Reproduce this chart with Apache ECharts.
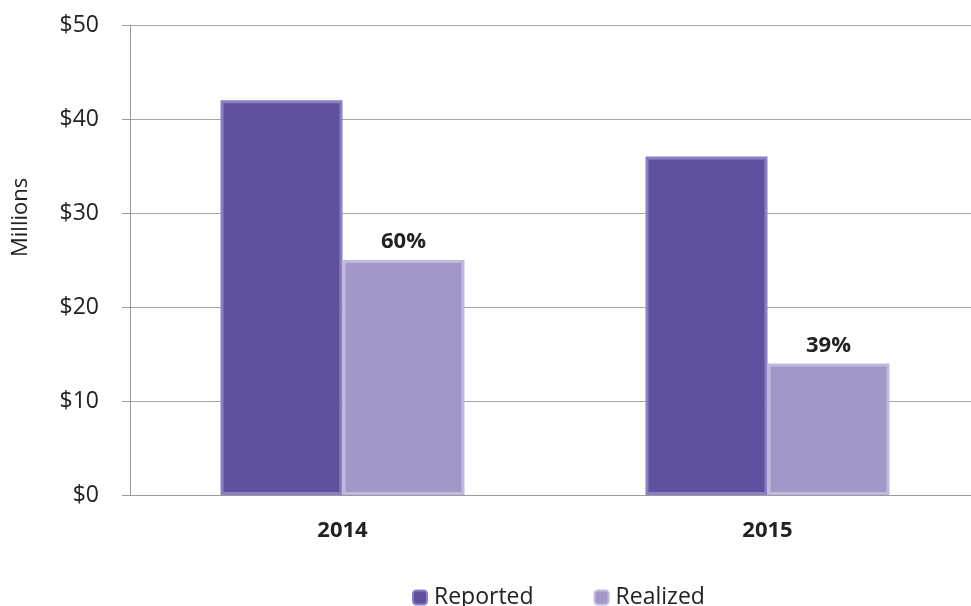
<!DOCTYPE html>
<html>
<head>
  <meta charset="UTF-8">
  <title>Reported vs Realized</title>
  <script src="https://cdn.jsdelivr.net/npm/echarts@6/dist/echarts.min.js"></script>
  <style>
    html, body { margin: 0; padding: 0; background: #fff; }
    #main { width: 971px; height: 606px; }
  </style>
</head>
<body>
<div id="main"></div>
<script>
  var years = ['2014', '2015'];
  var reported = [42, 36];
  var realized = [25, 14];
  var realizedPct = ['60%', '39%'];

  var font = '"Open Sans", "DejaVu Sans", sans-serif';

  var chart = echarts.init(document.getElementById('main'));
  chart.setOption({
    animation: false,
    textStyle: { fontFamily: font },
    grid: { left: 130, top: 25, width: 850, height: 470, containLabel: false, outerBoundsMode: 'none' },
    legend: {
      top: 581,
      left: 407,
      itemWidth: 14,
      itemHeight: 14,
      itemGap: 60,
      textStyle: { fontSize: 23, color: '#222', fontFamily: font, padding: [0, 0, 0, 2] },
      data: ['Reported', 'Realized']
    },
    graphic: [{
      type: 'text',
      x: 10,
      y: 257,
      rotation: Math.PI / 2,
      style: { text: 'Millions', fontSize: 22, fill: '#222', fontFamily: font }
    }],
    xAxis: {
      type: 'category',
      data: years,
      axisLine: { lineStyle: { color: '#9a9a9a' } },
      axisTick: { length: 8, lineStyle: { color: '#9a9a9a' } },
      axisLabel: { fontSize: 22, fontWeight: 'bold', color: '#222', margin: 25 }
    },
    yAxis: {
      type: 'value',
      min: 0,
      max: 50,
      interval: 10,
      axisLine: { show: true, lineStyle: { color: '#9a9a9a' } },
      axisTick: { show: true, length: 8, lineStyle: { color: '#9a9a9a' } },
      splitLine: { lineStyle: { color: '#a6a6a6' } },
      axisLabel: { fontSize: 23, color: '#222', margin: 31, formatter: '${value}' }
    },
    series: [{
      name: 'Reported',
      type: 'bar',
      data: reported,
      barWidth: 122,
      barGap: '0%',
      itemStyle: { color: '#6150a0', borderColor: '#8b7ec2', borderWidth: 3 }
    }, {
      name: 'Realized',
      type: 'bar',
      data: realized,
      barWidth: 122,
      barGap: '0%',
      itemStyle: { color: '#a397c9', borderColor: '#c2b9e0', borderWidth: 3 },
      label: {
        show: true,
        position: 'top',
        distance: 7,
        fontSize: 22,
        fontWeight: 'bold',
        color: '#222',
        formatter: function (p) { return realizedPct[p.dataIndex]; }
      }
    }]
  });
</script>
</body>
</html>
